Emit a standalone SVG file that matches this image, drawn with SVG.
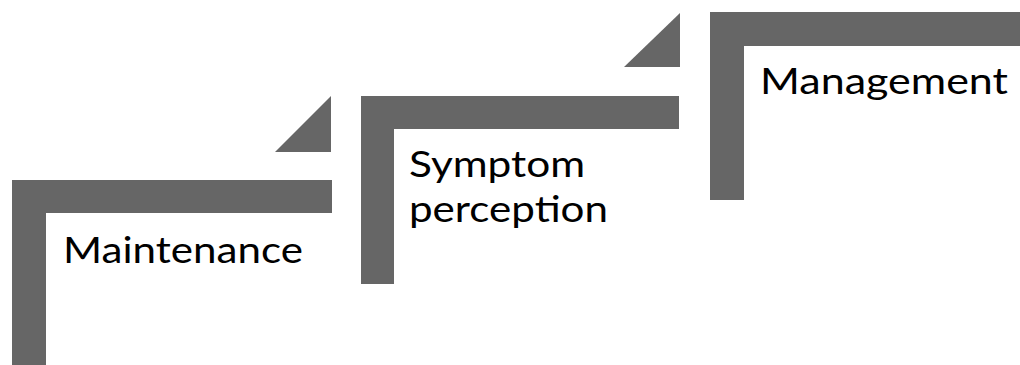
<svg xmlns="http://www.w3.org/2000/svg" width="1020" height="365" viewBox="0 0 1020 365">
<style>
.bar{fill:#666666}
.lbl{font-family:Lato,"Open Sans","Liberation Sans",sans-serif;font-size:37px;fill:#000}
</style>
<rect width="1020" height="365" fill="#fff"/>
<g id="step-maintenance">
<path class="bar" d="M12 180 H332 V213 H46 V365 H12 Z"/>
<text class="lbl" x="63" y="263" textLength="240" lengthAdjust="spacingAndGlyphs">Maintenance</text>
</g>
<g id="step-symptom">
<path class="bar" d="M361 96 H679 V129 H394 V284 H361 Z"/>
<text class="lbl" x="409" y="177" textLength="176" lengthAdjust="spacingAndGlyphs">Symptom</text>
<text class="lbl" x="409" y="222" textLength="199" lengthAdjust="spacingAndGlyphs">perception</text>
</g>
<g id="step-management">
<path class="bar" d="M710 12 H1020 V46 H744 V200 H710 Z"/>
<text class="lbl" x="760" y="94" textLength="248" lengthAdjust="spacingAndGlyphs">Management</text>
</g>
<g id="connectors">
<path class="bar" d="M275 152 L331 96 V152 Z"/>
<path class="bar" d="M624 67 L680 13 V67 Z"/>
</g>
</svg>
